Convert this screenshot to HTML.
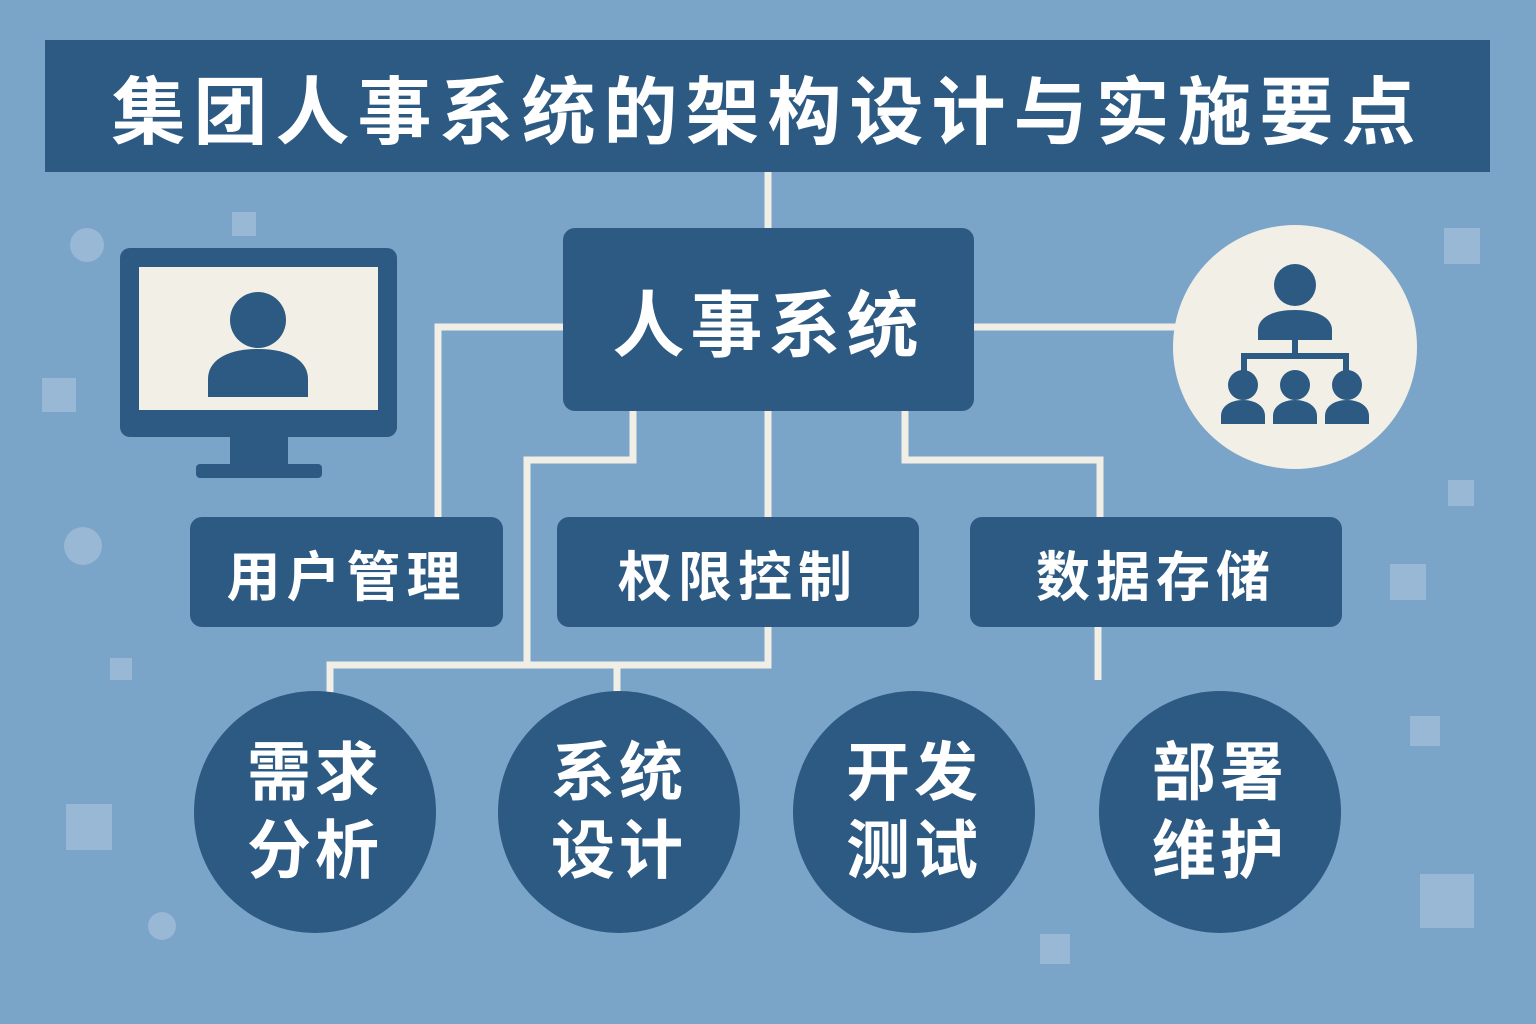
<!DOCTYPE html>
<html><head><meta charset="utf-8"><style>
html,body{margin:0;padding:0}
body{width:1536px;height:1024px;background:#7ba4c9;position:relative;overflow:hidden;font-family:"Liberation Sans","Noto Sans CJK SC",sans-serif;font-weight:bold}
.a{position:absolute}
.box{position:absolute;background:#2c5a82;color:#fff;display:flex;align-items:center;justify-content:center;border-radius:12px}
.c{position:absolute;width:242px;height:242px;border-radius:50%;background:#2c5a82;color:#fff;display:flex;align-items:center;justify-content:center;text-align:center;font-size:64px;line-height:78px;letter-spacing:4px}
.sq{position:absolute;background:rgba(255,255,255,0.22)}
.dot{position:absolute;border-radius:50%;background:rgba(255,255,255,0.22)}
</style></head><body>
<div class="sq" style="left:232px;top:212px;width:24px;height:24px"></div>
<div class="dot" style="left:70px;top:228px;width:34px;height:34px"></div>
<div class="sq" style="left:42px;top:378px;width:34px;height:34px"></div>
<div class="dot" style="left:64px;top:527px;width:38px;height:38px"></div>
<div class="sq" style="left:110px;top:658px;width:22px;height:22px"></div>
<div class="sq" style="left:66px;top:804px;width:46px;height:46px"></div>
<div class="dot" style="left:148px;top:912px;width:28px;height:28px"></div>
<div class="sq" style="left:1444px;top:228px;width:36px;height:36px"></div>
<div class="sq" style="left:1448px;top:480px;width:26px;height:26px"></div>
<div class="sq" style="left:1390px;top:564px;width:36px;height:36px"></div>
<div class="sq" style="left:1410px;top:716px;width:30px;height:30px"></div>
<div class="sq" style="left:1420px;top:874px;width:54px;height:54px"></div>
<div class="sq" style="left:1040px;top:934px;width:30px;height:30px"></div>

<svg class="a" style="left:0;top:0" width="1536" height="1024">
<g stroke="#f1eee6" stroke-width="7" fill="none">
<path d="M768 172V230"/>
<path d="M565 327H438V520"/>
<path d="M972 327H1180"/>
<path d="M633 410V460H527V665"/>
<path d="M768 410V520"/>
<path d="M905 410V460H1100V520"/>
<path d="M768 626V665H330V695"/>
<path d="M617 665V695"/>
<path d="M1098 626V680"/>
</g>
<rect x="120" y="248" width="277" height="189" rx="10" fill="#2c5a82"/>
<rect x="139" y="267" width="239" height="143" fill="#f2efe6"/>
<circle cx="258" cy="320" r="28" fill="#2c5a82"/>
<path d="M208 397v-18c0-18 18-30 50-30s50 12 50 30v18z" fill="#2c5a82"/>
<rect x="230" y="437" width="58" height="30" fill="#2c5a82"/>
<rect x="196" y="464" width="126" height="14" rx="4" fill="#2c5a82"/>
<circle cx="1295" cy="347" r="122" fill="#f2efe6"/>
<g fill="#2c5a82">
<circle cx="1295" cy="285" r="21"/>
<path d="M1258 340v-10c0-12 14-20 37-20s37 8 37 20v10z"/>
<rect x="1292" y="340" width="6" height="18"/>
<rect x="1241" y="353" width="108" height="6"/>
<rect x="1241" y="353" width="6" height="18"/><rect x="1343" y="353" width="6" height="18"/>
<circle cx="1243" cy="385" r="15"/><circle cx="1295" cy="385" r="15"/><circle cx="1347" cy="385" r="15"/>
<path d="M1221 424v-8c0-10 10-16 22-16s22 6 22 16v8z"/>
<path d="M1273 424v-8c0-10 10-16 22-16s22 6 22 16v8z"/>
<path d="M1325 424v-8c0-10 10-16 22-16s22 6 22 16v8z"/>
</g>
</svg>

<div class="box" style="left:45px;top:40px;width:1445px;height:132px;border-radius:0;font-size:74px;letter-spacing:8px">集团人事系统的架构设计与实施要点</div>
<div class="box" style="left:563px;top:228px;width:411px;height:183px;font-size:72px;letter-spacing:6px">人事系统</div>
<div class="box" style="left:190px;top:517px;width:313px;height:110px;font-size:54px;letter-spacing:6px">用户管理</div>
<div class="box" style="left:557px;top:517px;width:362px;height:110px;font-size:54px;letter-spacing:6px">权限控制</div>
<div class="box" style="left:970px;top:517px;width:372px;height:110px;font-size:54px;letter-spacing:6px">数据存储</div>

<div class="c" style="left:194px;top:691px">需求<br>分析</div>
<div class="c" style="left:498px;top:691px">系统<br>设计</div>
<div class="c" style="left:793px;top:691px">开发<br>测试</div>
<div class="c" style="left:1099px;top:691px">部署<br>维护</div>
</body></html>
